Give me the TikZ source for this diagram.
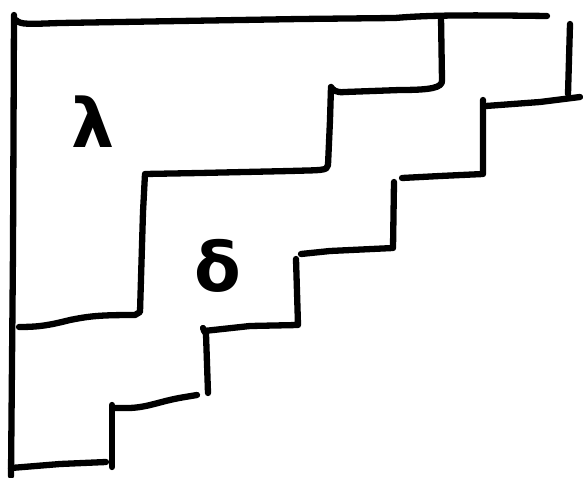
\documentclass[tikz,border=0pt]{standalone}
\usepackage{fontspec}
\newfontfamily\greekfont{DejaVu Sans}
\begin{document}
\begin{tikzpicture}[x=1pt,y=-1pt,
  ink/.style={line width=6.3pt,line cap=round,line join=round,black},
  glyph/.style={font=\greekfont\bfseries\fontsize{68}{72}\selectfont,inner sep=0pt}]
\useasboundingbox (0,0) rectangle (583,478);
% outer frame
\draw[ink] (14,15) -- (13,250) -- (11,476);
\draw[ink] (16,20) .. controls (20,25) and (30,24) .. (60,23) -- (300,19) -- (395,18) .. controls (430,15) and (470,15) .. (547,16);
\draw[ink] (570,24) -- (568,94);
% lambda staircase
\draw[ink] (441,17) -- (442,80) .. controls (443,88) and (430,90) .. (400,90) -- (345,92) .. controls (336,93) and (333,90) .. (331,87)
  -- (330,120) -- (328,165) .. controls (328,171) and (320,170) .. (290,171) -- (200,173) -- (145,174) -- (143,212) -- (140,312)
  -- (135,315) .. controls (100,315) and (90,316) .. (70,320) .. controls (50,325) and (40,327) .. (19,327);
% delta staircase
\draw[ink] (580,97) -- (540,102) -- (486,106);
\draw[ink] (483,100) -- (483,174) -- (440,176) -- (402,178);
\draw[ink] (394,182) -- (393,248) -- (330,251) -- (301,254);
\draw[ink] (296,259) -- (298,325) -- (250,326) -- (204,331);
\draw[ink] (203,328) -- (206,334) -- (208,393);
\draw[ink] (197,395) -- (185,397) .. controls (160,401) and (150,407) .. (130,408) -- (114,408);
\draw[ink] (112,405) -- (112,467);
\draw[ink] (106,462) -- (60,464) -- (11,468);
% labels
\node[glyph] (lam) at (93,122) {λ};
\node[glyph] (del) at (218,266) {δ};
\end{tikzpicture}
\end{document}
